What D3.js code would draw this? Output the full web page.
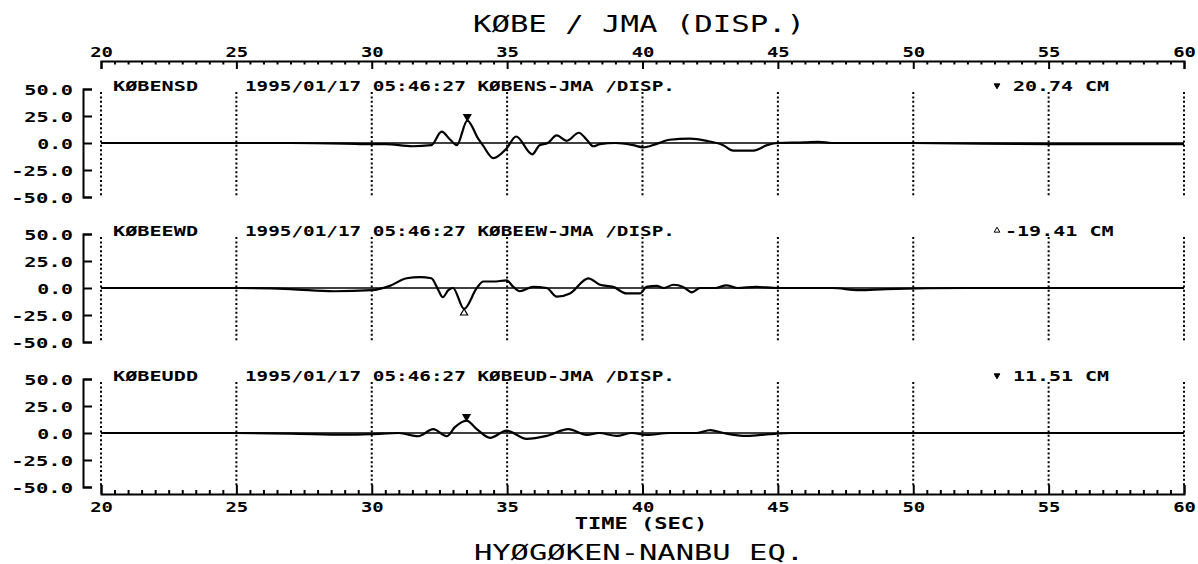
<!DOCTYPE html>
<html>
<head>
<meta charset="utf-8">
<script src="https://cdn.jsdelivr.net/npm/d3@7"></script>
<style>
  body { margin: 0; background: #fff; }
  svg { display: block; }
  text { font-family: "DejaVu Sans Mono", monospace; fill: #000; }
</style>
</head>
<body>
<div id="chart"></div>
<script>
// displacement traces (time in sec, displacement in cm)
const nsTime = [20, 22, 25, 27, 29, 30, 30.5, 31.5, 32.2, 32.58, 32.9, 33.14, 33.53, 33.93, 34.1, 34.49, 34.98, 35.33, 35.93, 36.2, 36.5, 36.83, 37.2, 37.65, 37.94, 38.18, 38.43, 39.0, 39.65, 40.03, 40.5, 41.0, 41.75, 42.37, 42.98, 43.35, 44.1, 44.6, 45.0, 46.0, 46.5, 47.0, 50, 55, 60];
const nsDisp = [0, 0, 0, 0, -0.5, -1, -1, -3, -2, 10.5, 3, -2, 20.74, 4, -2, -14, -5, 6, -10.5, -2, 0, 7, 2, 9.5, 3, -3, -1, 0, -2, -4, -1, 3, 4, 2, -2, -7, -7, -2, 0, 0.5, 1, 0, 0, -1, -1];

const ewTime = [20, 25, 27, 28.6, 30, 30.67, 31.29, 31.78, 32.2, 32.46, 32.62, 32.83, 33.0, 33.41, 33.88, 34.12, 34.49, 34.98, 35.23, 35.47, 35.96, 36.46, 36.83, 37.32, 38.0, 38.43, 38.92, 39.41, 39.91, 40.15, 40.52, 40.8, 41.14, 41.5, 41.82, 42.13, 42.7, 43.1, 43.5, 44.2, 45, 47, 48, 49, 52, 60];
const ewDisp = [0, 0, -1, -3, -2, 2, 9, 10, 9, -2, -8.5, -2, 0, -19.41, 0, 6, 6, 7, 1, -3, 1, 0, -8, -5, 9, 3, 1, -5, -5, 1, 2, 0, 3, 1, -4, 0, 0, 2.5, 0, 1, 0, 0, -2, -1, 0, 0];

const udTime = [20, 25, 27, 29, 30, 31, 31.72, 32.27, 32.77, 33.07, 33.5, 33.88, 34.37, 34.98, 35.72, 36.46, 37.26, 37.94, 38.4, 39.05, 39.6, 40.15, 41, 42.0, 42.5, 43.0, 43.85, 44.7, 45.5, 50, 55, 60];
const udDisp = [0, 0, -0.5, -1.5, -1, 0, -3, 3.6, -3, 5.4, 11.51, 3.6, -4.5, 2.2, -5.4, -2.7, 3.6, -1.8, 0, -2.7, 0, -1.8, 0, 0, 2.7, 0, -2.7, -1, 0, 0, 0, 0];

const channels = ["KØBENSD", "KØBEEWD", "KØBEUDD"];
const headers = [
  "1995/01/17 05:46:27 KØBENS-JMA /DISP.",
  "1995/01/17 05:46:27 KØBEEW-JMA /DISP.",
  "1995/01/17 05:46:27 KØBEUD-JMA /DISP."
];
const peakTimes = [33.53, 33.41, 33.5];
const peakValues = [20.74, -19.41, 11.51];
const peakLabels = ["20.74 CM", "-19.41 CM", "11.51 CM"];

const xTicks = [20, 25, 30, 35, 40, 45, 50, 55, 60];
const xMinor = d3.range(20.5, 60, 0.5).filter(d => d % 5 !== 0);
const yTicks = [-50, -25, 0, 25, 50];

const traces = [d3.zip(nsTime, nsDisp), d3.zip(ewTime, ewDisp), d3.zip(udTime, udDisp)];

const width = 1198, height = 564;
const panelTop = [89, 234, 379];
const panelH = 108;

const x = d3.scaleLinear().domain([20, 60]).range([101, 1184]);

const svg = d3.select("#chart").append("svg")
  .attr("width", width)
  .attr("height", height);

// plotter lettering is wide and monospaced, stretch the glyphs to the pitch
function stretch(sel, pitch) {
  sel.attr("textLength", function() {
      const n = this.textContent.length;
      return pitch * n - pitch * 0.25;
    })
    .attr("lengthAdjust", "spacingAndGlyphs");
}

function styleAxis(g) {
  g.attr("font-family", "DejaVu Sans Mono")
    .attr("font-size", 14)
    .attr("font-weight", "bold");
  g.selectAll("path, line").attr("stroke", "#000").attr("stroke-width", 2);
}

// top time axis
const topAxis = svg.append("g")
  .attr("transform", "translate(0,61)")
  .call(d3.axisTop(x).tickValues(xTicks).tickSize(-8).tickSizeOuter(-8).tickPadding(4).tickFormat(d3.format("d")))
  .call(styleAxis);
topAxis.selectAll("text").call(stretch, 13);
svg.append("g")
  .attr("transform", "translate(0,61)")
  .call(d3.axisTop(x).tickValues(xMinor).tickSize(-3.5).tickFormat(""))
  .call(g => g.select(".domain").remove())
  .call(styleAxis);

// bottom time axis
const botAxis = svg.append("g")
  .attr("transform", "translate(0,494)")
  .call(d3.axisBottom(x).tickValues(xTicks).tickSize(-9).tickSizeOuter(-9).tickFormat(d3.format("d")))
  .call(styleAxis);
botAxis.selectAll("text").attr("y", 18).attr("dy", null).call(stretch, 13);
svg.append("g")
  .attr("transform", "translate(0,494)")
  .call(d3.axisBottom(x).tickValues(xMinor).tickSize(-4).tickFormat(""))
  .call(g => g.select(".domain").remove())
  .call(styleAxis);

const line = d3.line().curve(d3.curveMonotoneX);

traces.forEach((data, i) => {
  const y = d3.scaleLinear().domain([-50, 50]).range([panelTop[i] + panelH, panelTop[i]]);
  const g = svg.append("g");

  // dotted time grid
  g.selectAll("line.grid")
    .data(xTicks)
    .join("line")
    .attr("class", "grid")
    .attr("x1", d => x(d)).attr("x2", d => x(d))
    .attr("y1", y(50) + 3).attr("y2", y(-50))
    .attr("stroke", "#000")
    .attr("stroke-width", 2)
    .attr("stroke-dasharray", "2,2.4");

  // amplitude axis bracket
  const yAxis = g.append("g")
    .attr("transform", "translate(83,0)")
    .call(d3.axisLeft(y).tickValues(yTicks).tickSize(-9).tickSizeOuter(-9).tickPadding(10).tickFormat(d => d.toFixed(1)))
    .call(styleAxis);
  yAxis.selectAll("text").attr("dy", "0.36em").call(stretch, 13);

  // zero line
  g.append("line")
    .attr("x1", x(20)).attr("x2", x(60))
    .attr("y1", y(0)).attr("y2", y(0))
    .attr("stroke", "#000")
    .attr("stroke-width", 1.6);

  // trace
  g.append("path")
    .datum(data)
    .attr("fill", "none")
    .attr("stroke", "#000")
    .attr("stroke-width", 2.2)
    .attr("stroke-linejoin", "round")
    .attr("d", line.x(d => x(d[0])).y(d => y(d[1])));

  // peak marker
  const up = peakValues[i] < 0;
  const tri = d3.symbol().type(d3.symbolTriangle).size(22);
  g.append("path")
    .attr("d", tri)
    .attr("transform", `translate(${x(peakTimes[i])},${y(peakValues[i]) + (up ? 4 : -4)}) rotate(${up ? 0 : 180})`)
    .attr("fill", up ? "#fff" : "#000")
    .attr("stroke", "#000")
    .attr("stroke-width", 1.2);

  // header texts
  const base = panelTop[i] + 1.5;
  g.append("text")
    .attr("x", 113).attr("y", base)
    .attr("font-size", 14).attr("font-weight", "bold")
    .text(channels[i])
    .call(stretch, 12.6);
  g.append("text")
    .attr("x", 245).attr("y", base)
    .attr("font-size", 14).attr("font-weight", "bold")
    .text(headers[i])
    .call(stretch, 11.7);
  g.append("path")
    .attr("d", d3.symbol().type(d3.symbolTriangle).size(14))
    .attr("transform", `translate(997,${base - 5}) rotate(${up ? 0 : 180})`)
    .attr("fill", up ? "#fff" : "#000")
    .attr("stroke", "#000")
    .attr("stroke-width", 1);
  g.append("text")
    .attr("x", up ? 1005 : 1013).attr("y", base)
    .attr("font-size", 14).attr("font-weight", "bold")
    .text(peakLabels[i])
    .call(stretch, 12.4);
});

// titles
svg.append("text")
  .attr("x", 639).attr("y", 32)
  .attr("text-anchor", "middle")
  .attr("font-size", 23)
  .text("KØBE / JMA (DISP.)")
  .call(stretch, 18.7);

svg.append("text")
  .attr("x", 641).attr("y", 529)
  .attr("text-anchor", "middle")
  .attr("font-size", 16).attr("font-weight", "bold")
  .text("TIME (SEC)")
  .call(stretch, 13.6);

svg.append("text")
  .attr("x", 639).attr("y", 560)
  .attr("text-anchor", "middle")
  .attr("font-size", 22)
  .text("HYØGØKEN-NANBU EQ.")
  .call(stretch, 18.6);
</script>
</body>
</html>
